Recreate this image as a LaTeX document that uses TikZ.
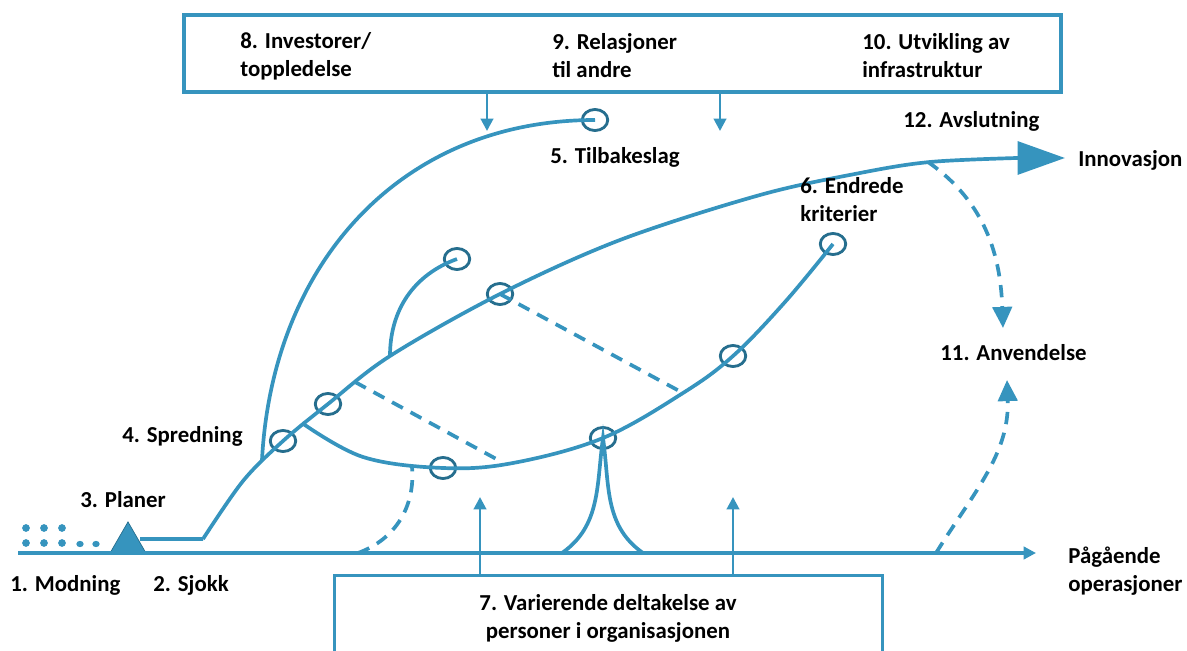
\documentclass[tikz,border=0pt]{standalone}
\usepackage{fontspec}
\setmainfont{Carlito}
\usetikzlibrary{shapes, arrows.meta}
\definecolor{flow}{RGB}{54,148,190}
\definecolor{ringc}{RGB}{38,110,142}
\tikzstyle{lbl} = [font=\bfseries\fontsize{13}{16}\selectfont, align=left, inner sep=0pt, anchor=west]
\tikzstyle{ring} = [ellipse, draw=ringc, line width=1.6pt, minimum width=14.5pt, minimum height=12pt, inner sep=0pt]
\tikzstyle{panel} = [rectangle, draw=flow, line width=2pt, inner sep=0pt]
\tikzstyle{line} = [draw=flow, line width=2.1pt]
\tikzstyle{dline} = [line, dash pattern=on 7pt off 5pt]
\tikzstyle{arr} = [line, line width=1.6pt, -{Triangle[length=7pt, width=7pt]}]
\tikzstyle{bigtip} = [-{Triangle[length=12pt, width=11pt]}]

\begin{document}
\begin{tikzpicture}[x=0.02cm, y=-0.02cm]
    \useasboundingbox (0,0) rectangle (1187,651);

    \node[panel, minimum width=499pt, minimum height=44pt] (topbox) at (622.5,53.5) {};
    \node[panel, minimum width=312pt, minimum height=62pt] (botbox) at (608.5,630) {};

    \node[ring] (r1) at (283,441) {};
    \node[ring] (r2) at (328,404) {};
    \node[ring] (r3) at (500,294) {};
    \node[ring] (r4) at (457,259) {};
    \node[ring] (r5) at (595,120) {};
    \node[ring] (r6) at (443,468) {};
    \node[ring] (r7) at (603,438) {};
    \node[ring] (r8) at (733,356) {};
    \node[ring] (r9) at (833,244) {};

    \node[regular polygon, regular polygon sides=3, fill=flow, draw=ringc, line width=0.4pt,
          minimum size=23.6pt, inner sep=0pt, outer sep=0pt, anchor=side 2] (pl) at (128,553) {};

    \coordinate (b0) at (18,553);
    \coordinate (b1) at (1036,553);
    \coordinate (p0) at (140,539);
    \coordinate (kink) at (203,539);
    \coordinate (inno) at (1065,158);
    \coordinate (s1) at (262,460);
    \coordinate (s2) at (390,356);
    \coordinate (lw) at (302,423);
    \coordinate (d1) at (355,382);
    \coordinate (d2) at (500,461);
    \coordinate (d3) at (683,393);
    \coordinate (f1) at (562,553);
    \coordinate (f2) at (643,553);
    \coordinate (g1) at (358,553);
    \coordinate (g2) at (412,467);
    \coordinate (h1) at (928,162);
    \coordinate (h2) at (1003,328);
    \coordinate (k1) at (936,553);
    \coordinate (k2) at (1007,380);
    \coordinate (a1) at (487,131);
    \coordinate (a2) at (720,131);
    \coordinate (a3) at (480,497);
    \coordinate (a4) at (733,497);

    \foreach \x in {26,44,62} {
        \fill[flow] (\x,528) circle (2.2pt);
        \fill[flow] (\x,543) circle (2.2pt);
    }
    \fill[flow] (80,544) ellipse (2.1pt and 1.8pt);
    \fill[flow] (96,544) ellipse (2.1pt and 1.8pt);

    \draw[line, -{Triangle[length=7pt, width=7pt]}] (b0) -- (b1);
    \draw[line, -{Triangle[length=27pt, width=18.7pt]}] (p0) -- (kink)
        plot[smooth, tension=0.55] coordinates {(kink) (243,481) (r1.center) (r2.center) (s2)
        (r3.center) (620,240) (760,195) (860,173) (930,162) (1017,158)} -- (inno);
    \draw[line] plot[smooth, tension=0.6] coordinates {(lw) (363,457) (r6.center) (513,463)
        (r7.center) (d3) (r8.center) (785,302) (r9.center)};
    \draw[line] (s1) to[out=87, in=180, looseness=1.05] (r5.center);
    \draw[line] (s2) to[out=90, in=200] (r4.center);
    \draw[line] (f1) to[out=35, in=262] (r7.center) to[out=278, in=145] (f2);

    \draw[dline] (d1) -- (d2);
    \draw[dline] (r3.center) -- (d3);
    \draw[dline] (g1) to[out=20, in=275] (g2);
    \draw[dline, bigtip] (h1) to[out=-35, in=92] (h2);
    \draw[dline, bigtip] (k1) to[out=58, in=-88] (k2);

    \draw[arr] (topbox.south -| a1) -- (a1);
    \draw[arr] (topbox.south -| a2) -- (a2);
    \draw[arr] (botbox.north -| a3) -- (a3);
    \draw[arr] (botbox.north -| a4) -- (a4);

    \node[lbl] (mod) at (10,585) {1. Modning};
    \node[lbl] (sjokk) at (153,585) {2. Sjokk};
    \node[lbl] (planer) at (80,500) {3. Planer};
    \node[lbl] (spred) at (122,436) {4. Spredning};
    \node[lbl] (tilb) at (550,157) {5. Tilbakeslag};
    \node[lbl] (endr) at (800,200) {6. Endrede\\kriterier};
    \node[lbl, align=center, anchor=center] (delt) at (608,618) {7. Varierende deltakelse av\\personer i organisasjonen};
    \node[lbl] (inv) at (240,56) {8. Investorer/\\toppledelse};
    \node[lbl] (rel) at (552,56) {9. Relasjoner\\til andre};
    \node[lbl] (utv) at (862,56) {10. Utvikling av\\infrastruktur};
    \node[lbl] (anv) at (940,353) {11. Anvendelse};
    \node[lbl] (avsl) at (903,121) {12. Avslutning};
    \node[lbl] (inn) at (1078,160) {Innovasjon};
    \node[lbl] (pag) at (1068,571) {Pågående\\operasjoner};
\end{tikzpicture}
\end{document}
